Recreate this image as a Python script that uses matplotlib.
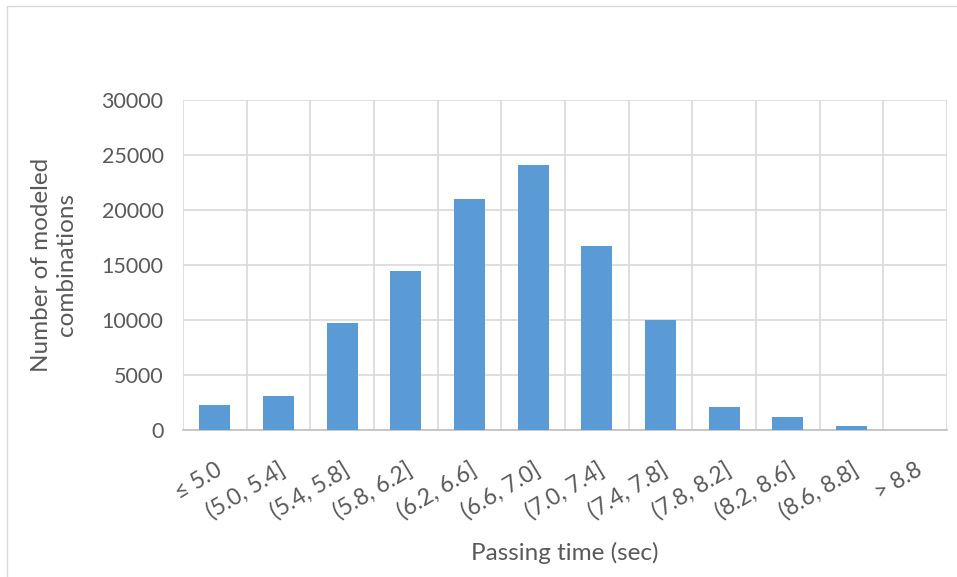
import matplotlib
matplotlib.use('Agg')
import matplotlib.pyplot as plt
import numpy as np

# Histogram of passing times
categories = ['≤ 5.0', '(5.0, 5.4]', '(5.4, 5.8]', '(5.8, 6.2]', '(6.2, 6.6]', '(6.6, 7.0]',
              '(7.0, 7.4]', '(7.4, 7.8]', '(7.8, 8.2]', '(8.2, 8.6]', '(8.6, 8.8]', '> 8.8']
counts = [2300, 3100, 9750, 14500, 21000, 24050, 16700, 9980, 2100, 1200, 380, 20]
yticks = [0, 5000, 10000, 15000, 20000, 25000, 30000]

plt.rcParams['font.family'] = ['Lato', 'DejaVu Sans']
text_color = '#595959'
grid_color = '#d9d9d9'

fig = plt.figure(figsize=(9.57, 5.77), dpi=100)
ax = fig.add_axes([183 / 957, 1 - 430 / 577, (947 - 183) / 957, (430 - 100) / 577])

x = np.arange(len(categories))
ax.bar(x, counts, width=0.49, color='#5b9bd5', zorder=3)

ax.set_xlim(-0.5, len(categories) - 0.5)
ax.set_ylim(0, 30000)
ax.set_yticks(yticks)
ax.set_yticklabels([str(v) for v in yticks], fontsize=15.5, color=text_color)

# vertical grid between categories
ax.set_xticks(x)
ax.set_xticks(np.arange(len(categories) + 1) - 0.5, minor=True)
ax.set_xticklabels(categories, rotation=31, ha='right', rotation_mode='anchor',
                   fontsize=16.5, color=text_color)
ax.tick_params(axis='x', which='both', length=0, pad=21)
ax.tick_params(axis='y', length=0, pad=14)
ax.grid(axis='y', color=grid_color, linewidth=1.2, zorder=0)
ax.grid(axis='x', which='minor', color=grid_color, linewidth=1.2, zorder=0)

for s in ['top', 'right', 'left']:
    ax.spines[s].set_visible(False)
ax.spines['bottom'].set_color('#bfbfbf')
ax.spines['bottom'].set_linewidth(1.2)

ax.set_xlabel('Passing time (sec)', fontsize=17.5, color=text_color, labelpad=13)
ax.set_ylabel('Number of modeled\ncombinations', fontsize=17.5, color=text_color, labelpad=18)

# outer chart border
fig.patches.append(plt.Rectangle((7 / 957, -0.01), 1, 1 - 6 / 577 + 0.01, transform=fig.transFigure,
                                 fill=False, edgecolor='#d9d9d9', linewidth=1))

fig.savefig('out.png', dpi=100, facecolor='white')
plt.close(fig)
